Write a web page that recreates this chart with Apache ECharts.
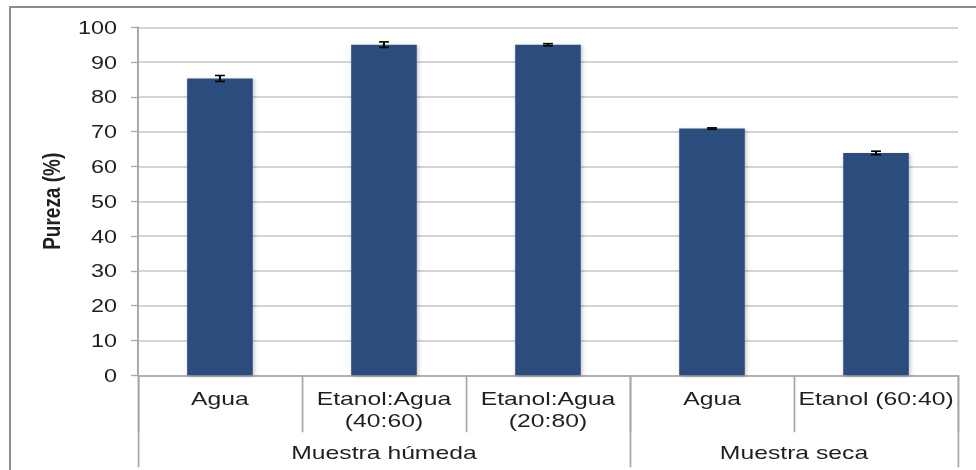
<!DOCTYPE html>
<html>
<head>
<meta charset="utf-8">
<script src="https://cdn.jsdelivr.net/npm/echarts@6/dist/echarts.min.js"></script>
<style>
  html, body { margin: 0; padding: 0; background: #fff; overflow: hidden; width: 976px; height: 470px; }
  #frame { position: absolute; left: 9px; top: 6px; right: 0; bottom: 0;
           border-top: 2px solid #8c8c8c; border-left: 2px solid #8c8c8c; }
  /* the chart is laid out at 750px and widened to fill the 976px page */
  #chart { position: absolute; left: 0; top: 0; width: 750px; height: 470px;
           transform: scaleX(1.30133); transform-origin: 0 0; }
</style>
</head>
<body>
<div id="frame"></div>
<div id="chart"></div>
<script>
// Sample preparation / solvent categories
const categories = ['Agua', 'Etanol:Agua\n(40:60)', 'Etanol:Agua\n(20:80)', 'Agua', 'Etanol (60:40)'];
// Purity (%) and its error
const purity = [85.3, 95.0, 95.0, 70.9, 63.9];
const purityError = [0.85, 0.8, 0.3, 0.2, 0.5];
// Sample groups and how many categories each spans
const groups = ['Muestra húmeda', 'Muestra seca'];
const groupSizes = [3, 2];
// Value axis ticks
const yMin = 0, yMax = 100, yStep = 10;

const FONT = 'Liberation Sans, Arial, sans-serif';
const TEXT = '#1f1f1f';
const AXIS = '#a6a6a6';
const GRID = '#c6c6c6';

// group boundaries and centres in category units
const groupEdges = [0];
groupSizes.forEach(n => groupEdges.push(groupEdges[groupEdges.length - 1] + n));
const groupMids = groups.map((g, i) => (groupEdges[i] + groupEdges[i + 1]) / 2);

const chart = echarts.init(document.getElementById('chart'), null, { renderer: 'svg' });

chart.setOption({
  animation: false,
  backgroundColor: 'transparent',
  grid: { left: 106, right: 13.8, top: 27.3, bottom: 94.7, containLabel: false },
  xAxis: [
    {
      type: 'category',
      data: categories,
      position: 'bottom',
      axisLine: { show: true, lineStyle: { color: AXIS, width: 1.5 } },
      axisTick: { show: true, length: 57, interval: 0, lineStyle: { color: AXIS, width: 1.3 } },
      axisLabel: { interval: 0, margin: 12, color: TEXT, fontFamily: FONT, fontSize: 19, lineHeight: 22 },
      splitLine: { show: false }
    },
    {
      type: 'value',
      min: 0,
      max: categories.length,
      position: 'bottom',
      axisLine: { show: false },
      splitLine: { show: false },
      axisTick: { show: true, inside: false, length: 92, customValues: groupEdges,
                  lineStyle: { color: AXIS, width: 1.3 } },
      axisLabel: {
        show: true, margin: 68, customValues: groupMids,
        color: TEXT, fontFamily: FONT, fontSize: 19,
        formatter: v => groups[groupMids.indexOf(v)] || ''
      }
    }
  ],
  yAxis: {
    type: 'value',
    min: yMin, max: yMax, interval: yStep,
    name: 'Pureza (%)',
    nameLocation: 'middle',
    nameRotate: 90,
    nameGap: 49,
    nameTextStyle: { color: TEXT, fontFamily: FONT, fontSize: 19, fontWeight: 'bold' },
    axisLine: { show: true, lineStyle: { color: AXIS, width: 1.5 } },
    axisTick: { show: true, length: 5.3, lineStyle: { color: AXIS, width: 1.3 } },
    axisLabel: { margin: 16, color: TEXT, fontFamily: FONT, fontSize: 18 },
    splitLine: { show: true, lineStyle: { color: GRID, width: 1.5 } }
  },
  series: [
    {
      type: 'bar',
      data: purity,
      barWidth: '40%',
      itemStyle: {
        color: '#2c4d7e',
        shadowColor: 'rgba(0,0,0,0.25)', shadowBlur: 3, shadowOffsetX: 1, shadowOffsetY: 1
      },
      z: 2
    },
    {
      type: 'custom',
      data: purity.map((v, i) => [i, v, purityError[i]]),
      encode: { x: 0, y: 1 },
      z: 5,
      renderItem(params, api) {
        const i = api.value(0), v = api.value(1), e = api.value(2);
        const hi = api.coord([i, v + e]);
        const lo = api.coord([i, v - e]);
        const half = 3.8;
        const st = { stroke: '#000', lineWidth: 1.6 };
        return {
          type: 'group',
          children: [
            { type: 'line', shape: { x1: hi[0], y1: hi[1], x2: lo[0], y2: lo[1] }, style: st },
            { type: 'line', shape: { x1: hi[0] - half, y1: hi[1], x2: hi[0] + half, y2: hi[1] }, style: st },
            { type: 'line', shape: { x1: lo[0] - half, y1: lo[1], x2: lo[0] + half, y2: lo[1] }, style: st }
          ]
        };
      }
    }
  ]
});
</script>
</body>
</html>
